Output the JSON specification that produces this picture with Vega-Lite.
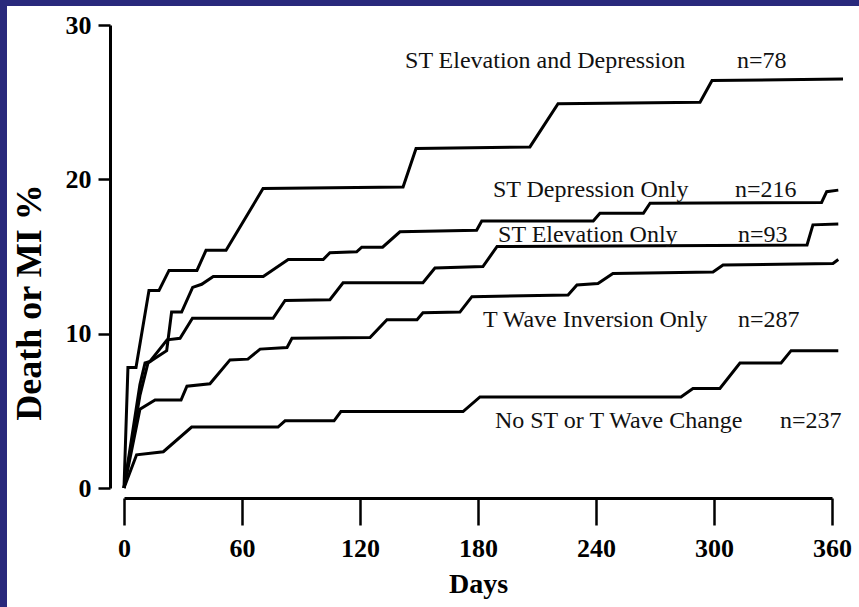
{
  "$schema": "https://vega.github.io/schema/vega-lite/v6.json",
  "width": 852,
  "height": 601,
  "autosize": "none",
  "padding": {"left": 7, "top": 6, "right": 0, "bottom": 0},
  "background": "#29297c",
  "config": {"view": {"fill": "#ffffff", "stroke": null}},
  "datasets": {
    "curves": [
      {"g": "ST Elevation and Depression", "day": 0, "pct": 0},
      {"g": "ST Elevation and Depression", "day": 2.0, "pct": 7.8},
      {"g": "ST Elevation and Depression", "day": 6.1, "pct": 7.8},
      {"g": "ST Elevation and Depression", "day": 12.7, "pct": 12.8},
      {"g": "ST Elevation and Depression", "day": 17.8, "pct": 12.8},
      {"g": "ST Elevation and Depression", "day": 22.9, "pct": 14.1},
      {"g": "ST Elevation and Depression", "day": 37.1, "pct": 14.1},
      {"g": "ST Elevation and Depression", "day": 41.7, "pct": 15.4},
      {"g": "ST Elevation and Depression", "day": 51.9, "pct": 15.4},
      {"g": "ST Elevation and Depression", "day": 70.7, "pct": 19.4},
      {"g": "ST Elevation and Depression", "day": 141.9, "pct": 19.5},
      {"g": "ST Elevation and Depression", "day": 148.5, "pct": 22.0},
      {"g": "ST Elevation and Depression", "day": 206.4, "pct": 22.1},
      {"g": "ST Elevation and Depression", "day": 220.7, "pct": 24.9},
      {"g": "ST Elevation and Depression", "day": 292.9, "pct": 25.0},
      {"g": "ST Elevation and Depression", "day": 299.0, "pct": 26.4},
      {"g": "ST Elevation and Depression", "day": 365.6, "pct": 26.5},
      {"g": "ST Depression Only", "day": 0, "pct": 0},
      {"g": "ST Depression Only", "day": 8.1, "pct": 6.0},
      {"g": "ST Depression Only", "day": 12.2, "pct": 8.1},
      {"g": "ST Depression Only", "day": 15.8, "pct": 8.4},
      {"g": "ST Depression Only", "day": 21.7, "pct": 8.9},
      {"g": "ST Depression Only", "day": 24.2, "pct": 11.4},
      {"g": "ST Depression Only", "day": 29.3, "pct": 11.4},
      {"g": "ST Depression Only", "day": 34.9, "pct": 13.0},
      {"g": "ST Depression Only", "day": 39.5, "pct": 13.2},
      {"g": "ST Depression Only", "day": 45.4, "pct": 13.7},
      {"g": "ST Depression Only", "day": 70.8, "pct": 13.7},
      {"g": "ST Depression Only", "day": 83.5, "pct": 14.8},
      {"g": "ST Depression Only", "day": 101.3, "pct": 14.8},
      {"g": "ST Depression Only", "day": 104.7, "pct": 15.25},
      {"g": "ST Depression Only", "day": 118.3, "pct": 15.3},
      {"g": "ST Depression Only", "day": 120.9, "pct": 15.6},
      {"g": "ST Depression Only", "day": 131.5, "pct": 15.6},
      {"g": "ST Depression Only", "day": 140.3, "pct": 16.6},
      {"g": "ST Depression Only", "day": 179.3, "pct": 16.7},
      {"g": "ST Depression Only", "day": 181.9, "pct": 17.3},
      {"g": "ST Depression Only", "day": 238.6, "pct": 17.3},
      {"g": "ST Depression Only", "day": 242.0, "pct": 17.8},
      {"g": "ST Depression Only", "day": 264.1, "pct": 17.8},
      {"g": "ST Depression Only", "day": 267.5, "pct": 18.45},
      {"g": "ST Depression Only", "day": 354.7, "pct": 18.5},
      {"g": "ST Depression Only", "day": 357.3, "pct": 19.2},
      {"g": "ST Depression Only", "day": 363.2, "pct": 19.3},
      {"g": "ST Elevation Only", "day": 0, "pct": 0},
      {"g": "ST Elevation Only", "day": 8.1, "pct": 6.7},
      {"g": "ST Elevation Only", "day": 10.7, "pct": 8.1},
      {"g": "ST Elevation Only", "day": 13.2, "pct": 8.2},
      {"g": "ST Elevation Only", "day": 21.9, "pct": 9.6},
      {"g": "ST Elevation Only", "day": 28.5, "pct": 9.7},
      {"g": "ST Elevation Only", "day": 34.8, "pct": 11.0},
      {"g": "ST Elevation Only", "day": 75.8, "pct": 11.0},
      {"g": "ST Elevation Only", "day": 81.9, "pct": 12.15},
      {"g": "ST Elevation Only", "day": 104.7, "pct": 12.2},
      {"g": "ST Elevation Only", "day": 111.4, "pct": 13.3},
      {"g": "ST Elevation Only", "day": 152.0, "pct": 13.3},
      {"g": "ST Elevation Only", "day": 158.1, "pct": 14.25},
      {"g": "ST Elevation Only", "day": 182.5, "pct": 14.35},
      {"g": "ST Elevation Only", "day": 189.7, "pct": 15.65},
      {"g": "ST Elevation Only", "day": 347.3, "pct": 15.75},
      {"g": "ST Elevation Only", "day": 350.3, "pct": 17.05},
      {"g": "ST Elevation Only", "day": 363.2, "pct": 17.1},
      {"g": "T Wave Inversion Only", "day": 0, "pct": 0},
      {"g": "T Wave Inversion Only", "day": 8.1, "pct": 5.1},
      {"g": "T Wave Inversion Only", "day": 15.8, "pct": 5.7},
      {"g": "T Wave Inversion Only", "day": 29.0, "pct": 5.7},
      {"g": "T Wave Inversion Only", "day": 32.0, "pct": 6.6},
      {"g": "T Wave Inversion Only", "day": 43.7, "pct": 6.75},
      {"g": "T Wave Inversion Only", "day": 53.9, "pct": 8.3},
      {"g": "T Wave Inversion Only", "day": 63.0, "pct": 8.35},
      {"g": "T Wave Inversion Only", "day": 69.2, "pct": 9.0},
      {"g": "T Wave Inversion Only", "day": 82.9, "pct": 9.1},
      {"g": "T Wave Inversion Only", "day": 85.4, "pct": 9.7},
      {"g": "T Wave Inversion Only", "day": 125.1, "pct": 9.75},
      {"g": "T Wave Inversion Only", "day": 133.7, "pct": 10.9},
      {"g": "T Wave Inversion Only", "day": 149.0, "pct": 10.9},
      {"g": "T Wave Inversion Only", "day": 152.0, "pct": 11.35},
      {"g": "T Wave Inversion Only", "day": 170.8, "pct": 11.4},
      {"g": "T Wave Inversion Only", "day": 176.9, "pct": 12.4},
      {"g": "T Wave Inversion Only", "day": 225.8, "pct": 12.5},
      {"g": "T Wave Inversion Only", "day": 230.3, "pct": 13.15},
      {"g": "T Wave Inversion Only", "day": 241.0, "pct": 13.25},
      {"g": "T Wave Inversion Only", "day": 248.6, "pct": 13.9},
      {"g": "T Wave Inversion Only", "day": 299.5, "pct": 14.0},
      {"g": "T Wave Inversion Only", "day": 304.6, "pct": 14.45},
      {"g": "T Wave Inversion Only", "day": 360.5, "pct": 14.55},
      {"g": "T Wave Inversion Only", "day": 363.2, "pct": 14.8},
      {"g": "No ST or T Wave Change", "day": 0, "pct": 0},
      {"g": "No ST or T Wave Change", "day": 6.4, "pct": 2.15},
      {"g": "No ST or T Wave Change", "day": 20.0, "pct": 2.35},
      {"g": "No ST or T Wave Change", "day": 34.4, "pct": 3.95},
      {"g": "No ST or T Wave Change", "day": 78.3, "pct": 3.95},
      {"g": "No ST or T Wave Change", "day": 81.9, "pct": 4.35},
      {"g": "No ST or T Wave Change", "day": 106.8, "pct": 4.35},
      {"g": "No ST or T Wave Change", "day": 110.3, "pct": 4.95},
      {"g": "No ST or T Wave Change", "day": 172.4, "pct": 4.95},
      {"g": "No ST or T Wave Change", "day": 181.0, "pct": 5.9},
      {"g": "No ST or T Wave Change", "day": 283.2, "pct": 5.9},
      {"g": "No ST or T Wave Change", "day": 289.3, "pct": 6.45},
      {"g": "No ST or T Wave Change", "day": 303.0, "pct": 6.45},
      {"g": "No ST or T Wave Change", "day": 313.2, "pct": 8.1},
      {"g": "No ST or T Wave Change", "day": 334.1, "pct": 8.1},
      {"g": "No ST or T Wave Change", "day": 339.2, "pct": 8.9},
      {"g": "No ST or T Wave Change", "day": 363.2, "pct": 8.9}
    ],
    "labels": [
      {"label": "ST Elevation and Depression", "day": 142.9, "pct": 27.2},
      {"label": "n=78", "day": 311.7, "pct": 27.2},
      {"label": "ST Depression Only", "day": 187.6, "pct": 18.83},
      {"label": "n=216", "day": 310.7, "pct": 18.83},
      {"label": "ST Elevation Only", "day": 190.2, "pct": 15.97},
      {"label": "n=93", "day": 312.2, "pct": 15.97},
      {"label": "T Wave Inversion Only", "day": 182.5, "pct": 10.45},
      {"label": "n=287", "day": 312.2, "pct": 10.45},
      {"label": "No ST or T Wave Change", "day": 188.6, "pct": 3.9},
      {"label": "n=237", "day": 333.6, "pct": 3.9}
    ]
  },
  "encoding": {
    "x": {
      "field": "day",
      "type": "quantitative",
      "scale": {"domain": [0, 360], "range": [117, 825], "zero": false, "nice": false},
      "axis": {
        "values": [0, 60, 120, 180, 240, 300, 360],
        "offset": -109,
        "grid": false,
        "domainColor": "#000000",
        "domainWidth": 3,
        "tickColor": "#000000",
        "tickSize": 27,
        "tickWidth": 2.5,
        "labelFont": "Liberation Serif",
        "labelFontWeight": "bold",
        "labelFontSize": 26,
        "labelColor": "#000000",
        "labelPadding": 10,
        "labelFlush": false,
        "labelOverlap": false,
        "title": "Days",
        "titleFont": "Liberation Serif",
        "titleFontWeight": "bold",
        "titleFontSize": 28,
        "titleColor": "#000000",
        "titlePadding": 9
      }
    },
    "y": {
      "field": "pct",
      "type": "quantitative",
      "scale": {"domain": [0, 30], "range": [482, 19], "zero": false, "nice": false},
      "axis": {
        "values": [0, 10, 20, 30],
        "offset": -103,
        "grid": false,
        "domainColor": "#000000",
        "domainWidth": 3,
        "tickColor": "#000000",
        "tickSize": 12,
        "tickWidth": 2.5,
        "labelFont": "Liberation Serif",
        "labelFontWeight": "bold",
        "labelFontSize": 26,
        "labelColor": "#000000",
        "labelPadding": 7,
        "labelFlush": false,
        "labelOverlap": false,
        "title": "Death or MI %",
        "titleFont": "Liberation Serif",
        "titleFontWeight": "bold",
        "titleFontSize": 36,
        "titleColor": "#000000",
        "titleX": -70,
        "titleY": 296,
        "titleAngle": -90,
        "titleAlign": "center",
        "titleBaseline": "alphabetic"
      }
    }
  },
  "layer": [
    {
      "data": {"name": "curves"},
      "mark": {"type": "line", "color": "#000000", "strokeWidth": 3},
      "encoding": {"detail": {"field": "g", "type": "nominal"}}
    },
    {
      "data": {"name": "labels"},
      "mark": {"type": "text", "align": "left", "baseline": "alphabetic", "font": "Liberation Serif", "fontSize": 24, "color": "#111111"},
      "encoding": {"text": {"field": "label", "type": "nominal"}}
    }
  ]
}
